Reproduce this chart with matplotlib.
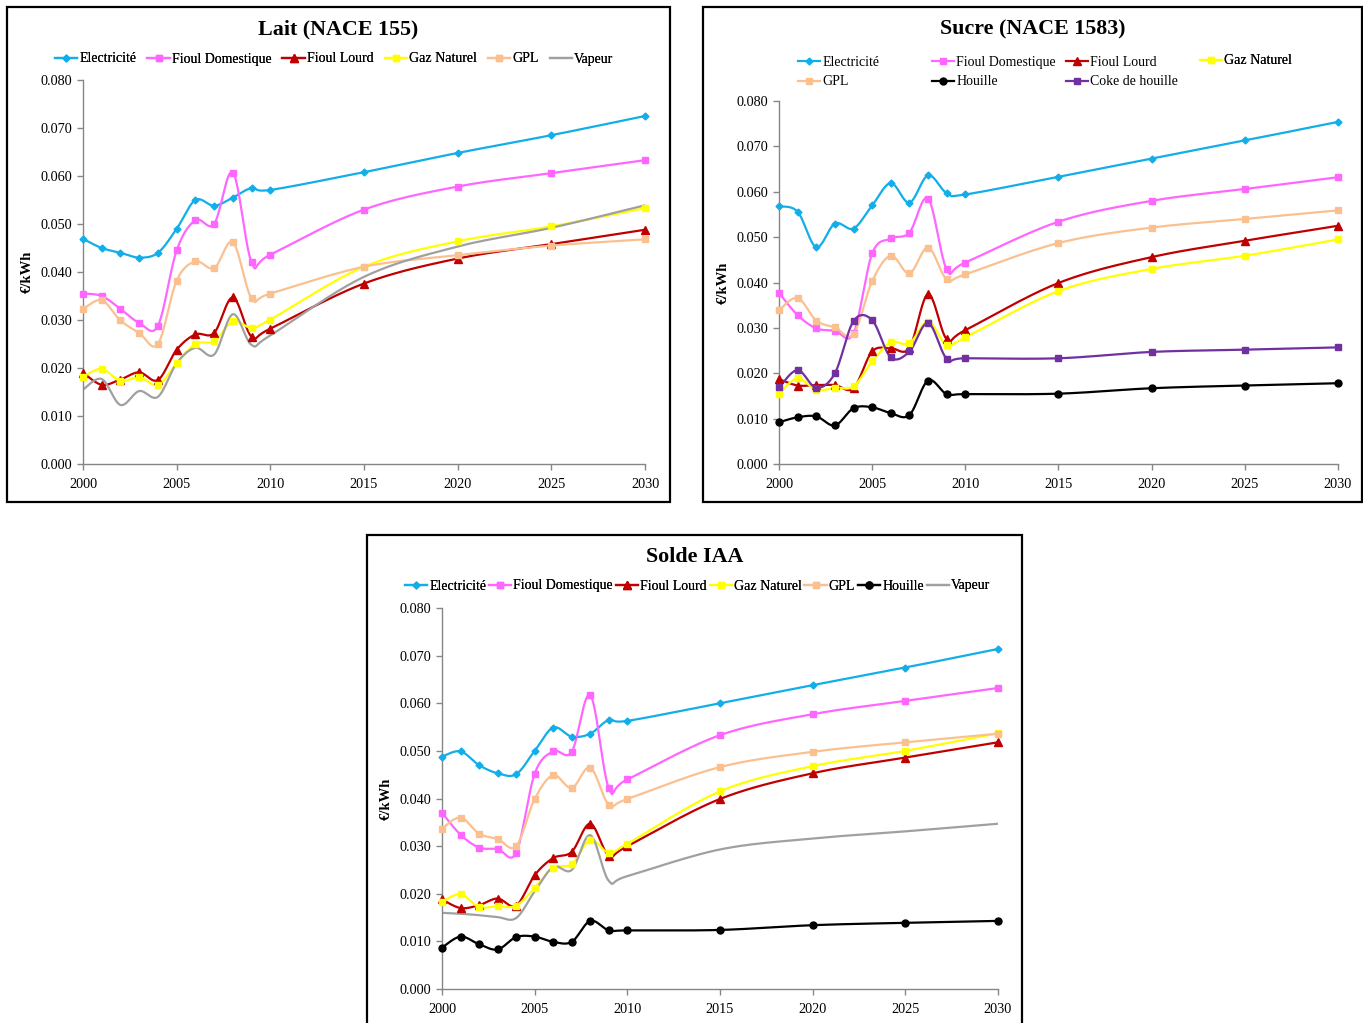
import numpy as np
import matplotlib
matplotlib.use("Agg")
import matplotlib.pyplot as plt
from matplotlib.lines import Line2D
from matplotlib.patches import Rectangle

plt.rcParams['font.family'] = ['Liberation Serif', 'DejaVu Serif']

years = [2000, 2001, 2002, 2003, 2004, 2005, 2006, 2007, 2008, 2009, 2010, 2015, 2020, 2025, 2030]

# Lait (NACE 155)
lait_elec = [0.0469, 0.0450, 0.0440, 0.0430, 0.0440, 0.0490, 0.0550, 0.0538, 0.0555, 0.0575, 0.0571, 0.0608, 0.0648, 0.0685, 0.0725]
lait_fod = [0.0355, 0.0350, 0.0323, 0.0294, 0.0288, 0.0445, 0.0508, 0.0500, 0.0607, 0.0420, 0.0436, 0.0530, 0.0578, 0.0606, 0.0633]
lait_fol = [0.0190, 0.0165, 0.0176, 0.0191, 0.0175, 0.0238, 0.0270, 0.0273, 0.0347, 0.0265, 0.0282, 0.0376, 0.0428, 0.0458, 0.0488]
lait_gaz = [0.0182, 0.0198, 0.0173, 0.0181, 0.0165, 0.0210, 0.0250, 0.0256, 0.0297, 0.0284, 0.0301, 0.0411, 0.0464, 0.0495, 0.0533]
lait_gpl = [0.0323, 0.0341, 0.0299, 0.0273, 0.0250, 0.0382, 0.0422, 0.0408, 0.0462, 0.0345, 0.0355, 0.0411, 0.0435, 0.0455, 0.0468]
lait_vap = [0.0155, 0.0177, 0.0123, 0.0152, 0.0140, 0.0210, 0.0242, 0.0228, 0.0312, 0.0248, 0.0268, 0.0390, 0.0453, 0.0492, 0.0539]

# Sucre (NACE 1583)
suc_elec = [0.0568, 0.0556, 0.0478, 0.0530, 0.0519, 0.0570, 0.0619, 0.0576, 0.0636, 0.0597, 0.0594, 0.0633, 0.0673, 0.0713, 0.0754]
suc_fod = [0.0377, 0.0328, 0.0299, 0.0294, 0.0288, 0.0464, 0.0497, 0.0510, 0.0585, 0.0429, 0.0444, 0.0534, 0.0580, 0.0606, 0.0632]
suc_fol = [0.0187, 0.0173, 0.0174, 0.0174, 0.0167, 0.0248, 0.0255, 0.0256, 0.0374, 0.0275, 0.0295, 0.0399, 0.0456, 0.0492, 0.0525]
suc_gaz = [0.0155, 0.0189, 0.0163, 0.0168, 0.0171, 0.0226, 0.0268, 0.0266, 0.0314, 0.0262, 0.0279, 0.0381, 0.0430, 0.0459, 0.0495]
suc_gpl = [0.0339, 0.0366, 0.0316, 0.0301, 0.0286, 0.0403, 0.0459, 0.0420, 0.0477, 0.0407, 0.0418, 0.0487, 0.0521, 0.0540, 0.0559]
suc_hou = [0.0092, 0.0103, 0.0105, 0.0085, 0.0123, 0.0125, 0.0112, 0.0108, 0.0184, 0.0154, 0.0154, 0.0155, 0.0167, 0.0173, 0.0178]
suc_coke = [0.0169, 0.0207, 0.0168, 0.0200, 0.0315, 0.0317, 0.0235, 0.0248, 0.0311, 0.0232, 0.0233, 0.0233, 0.0247, 0.0252, 0.0257]

# Solde IAA
iaa_elec = [0.0488, 0.0499, 0.0470, 0.0453, 0.0451, 0.0500, 0.0549, 0.0530, 0.0536, 0.0565, 0.0563, 0.0600, 0.0638, 0.0675, 0.0714]
iaa_fod = [0.0370, 0.0324, 0.0297, 0.0294, 0.0286, 0.0452, 0.0499, 0.0498, 0.0617, 0.0422, 0.0440, 0.0533, 0.0577, 0.0605, 0.0632]
iaa_fol = [0.0188, 0.0170, 0.0176, 0.0190, 0.0175, 0.0239, 0.0275, 0.0288, 0.0347, 0.0280, 0.0300, 0.0399, 0.0453, 0.0486, 0.0518]
iaa_gaz = [0.0183, 0.0199, 0.0172, 0.0174, 0.0175, 0.0212, 0.0255, 0.0262, 0.0313, 0.0286, 0.0305, 0.0415, 0.0468, 0.0500, 0.0537]
iaa_gpl = [0.0337, 0.0360, 0.0326, 0.0315, 0.0300, 0.0399, 0.0449, 0.0422, 0.0465, 0.0387, 0.0399, 0.0466, 0.0498, 0.0518, 0.0536]
iaa_hou = [0.0087, 0.0110, 0.0094, 0.0083, 0.0109, 0.0110, 0.0099, 0.0099, 0.0143, 0.0123, 0.0123, 0.0124, 0.0134, 0.0139, 0.0143]
iaa_vap = [0.0160, 0.0158, 0.0155, 0.0151, 0.0149, 0.0205, 0.0256, 0.0250, 0.0323, 0.0227, 0.0237, 0.0293, 0.0316, 0.0331, 0.0347]

# name -> (colour, marker, marker size)
styles = {
    "Electricité": ("#12AEEA", "D", 3.5),
    "Fioul Domestique": ("#FF66FF", "s", 5),
    "Fioul Lourd": ("#C00000", "^", 5.5),
    "Gaz Naturel": ("#FFFF00", "s", 5),
    "GPL": ("#FAC090", "s", 5),
    "Houille": ("#000000", "o", 5),
    "Coke de houille": ("#7030A0", "s", 5),
    "Vapeur": ("#A0A0A0", None, 0),
}

W, H = 1363, 1023
fig = plt.figure(figsize=(W / 100, H / 100), dpi=100)


def smooth(xs, ys, n=24):
    # Excel-like smoothed line: cubic bezier through points (Catmull-Rom tangents)
    p = np.column_stack([xs, ys]).astype(float)
    out = [p[0]]
    t = np.linspace(0, 1, n)[1:, None]
    for i in range(len(p) - 1):
        p0 = p[i - 1] if i > 0 else p[i]
        p3 = p[i + 2] if i + 2 < len(p) else p[i + 1]
        c1 = p[i] + (p[i + 1] - p0) / 6
        c2 = p[i + 1] - (p3 - p[i]) / 6
        seg = (1 - t) ** 3 * p[i] + 3 * (1 - t) ** 2 * t * c1 + 3 * (1 - t) * t ** 2 * c2 + t ** 3 * p[i + 1]
        out.extend(seg)
    out = np.array(out)
    return out[:, 0], out[:, 1]


def frame(l, t, r, b):
    fig.patches.append(Rectangle((l / W, 1 - b / H), (r - l) / W, (b - t) / H, transform=fig.transFigure,
                                 fill=False, edgecolor="black", linewidth=1.6, zorder=0))


def handle(name):
    c, m, ms = styles[name]
    return Line2D([], [], color=c, lw=1.6, marker=m, markersize=ms, markeredgecolor=c)


def panel(box, frm, title, title_y, series, leg_rows, colsp=1.0):
    l, t, r, b = box
    ax = fig.add_axes([l / W, 1 - b / H, (r - l) / W, (b - t) / H])
    for name, vals in series:
        c, m, ms = styles[name]
        sx, sy = smooth(years, vals)
        ax.plot(sx, sy, color=c, lw=1.6, zorder=2, solid_capstyle="round")
        if m:
            ax.plot(years, vals, ls="none", marker=m, markersize=ms, color=c, markeredgecolor=c,
                    zorder=3, clip_on=False)
    ax.set_xlim(2000, 2030)
    ax.set_ylim(0, 0.080)
    ax.set_xticks(range(2000, 2031, 5))
    ax.set_yticks(np.arange(0, 0.0801, 0.01))
    ax.set_yticklabels([f"{v:.3f}" for v in np.arange(0, 0.0801, 0.01)])
    for s in ["top", "right"]:
        ax.spines[s].set_visible(False)
    for s in ["left", "bottom"]:
        ax.spines[s].set_color("#868686")
        ax.spines[s].set_linewidth(1)
    ax.tick_params(axis="both", colors="#868686", labelcolor="black", labelsize=10.3, length=4, width=1)
    ax.tick_params(axis="x", pad=6)
    ax.set_ylabel("€/kWh", fontsize=10.5, fontweight="bold", labelpad=5)
    ax.patch.set_alpha(0)
    fig.text((frm[0] + frm[1]) / 2 / W, 1 - title_y / H, title, ha="center", va="center",
             fontsize=15.8, fontweight="bold")
    for x0, y0, names, ncol in leg_rows:
        leg = ax.legend([handle(n) for n in names], names, loc="center left", ncol=ncol,
                        bbox_to_anchor=(x0 / W, 1 - y0 / H), bbox_transform=fig.transFigure,
                        frameon=False, fontsize=10, handlelength=1.6, handletextpad=0.15,
                        columnspacing=colsp, borderpad=0, borderaxespad=0, labelspacing=0.5)
        ax.add_artist(leg)
    return ax


frame(7, 7, 670, 502)
frame(703, 7, 1362, 502)
frame(367, 535, 1022, 1030)

lait_names = ["Electricité", "Fioul Domestique", "Fioul Lourd", "Gaz Naturel", "GPL", "Vapeur"]
panel((83, 80, 645, 464), (7, 670), "Lait (NACE 155)", 29,
      list(zip(lait_names, [lait_elec, lait_fod, lait_fol, lait_gaz, lait_gpl, lait_vap])),
      [(55, 59, lait_names, 6)], colsp=0.8)

suc_names = ["Electricité", "Fioul Domestique", "Fioul Lourd", "Gaz Naturel", "GPL", "Houille", "Coke de houille"]
panel((779, 101, 1338, 464), (703, 1362), "Sucre (NACE 1583)", 29,
      list(zip(suc_names, [suc_elec, suc_fod, suc_fol, suc_gaz, suc_gpl, suc_hou, suc_coke])),
      [(798, 72, ["Electricité", "GPL"], 1),
       (932, 72, ["Fioul Domestique", "Houille"], 1),
       (1066, 72, ["Fioul Lourd", "Coke de houille"], 1),
       (1200, 61, ["Gaz Naturel"], 1)])

iaa_names = ["Electricité", "Fioul Domestique", "Fioul Lourd", "Gaz Naturel", "GPL", "Houille", "Vapeur"]
panel((442, 608, 998, 989), (367, 1022), "Solde IAA", 557,
      list(zip(iaa_names, [iaa_elec, iaa_fod, iaa_fol, iaa_gaz, iaa_gpl, iaa_hou, iaa_vap])),
      [(405, 586, iaa_names, 7)], colsp=0.2)

fig.savefig("out.png", dpi=100)
